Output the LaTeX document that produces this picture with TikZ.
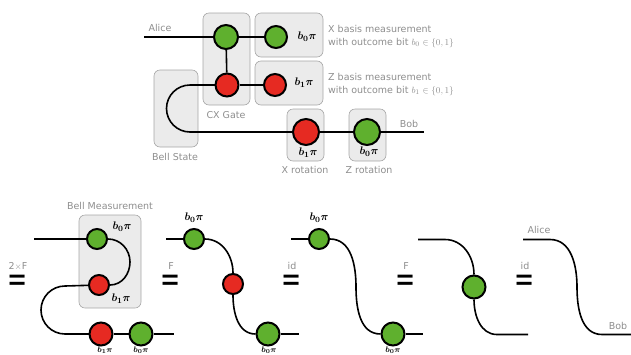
\documentclass[tikz,border=0pt]{standalone}
\usepackage{amsmath}
\usepackage{amssymb}
\usepackage{xcolor}
\usepackage{fontspec}
\setmainfont{DejaVu Sans}
\definecolor{zxgreen}{HTML}{5FB02E}
\definecolor{zxred}{HTML}{E62A22}
\definecolor{zxtext}{HTML}{8E8E8E}
\tikzset{
    wire/.style={line width=1.6pt},
    gbox/.style={draw=black!35,fill=black!8,rounded corners=6pt,line width=.6pt},
    greenA/.style={circle,draw=black,fill=zxgreen,line width=2pt,inner sep=0pt,minimum size=#1},
    redA/.style={circle,draw=black,fill=zxred,line width=2pt,inner sep=0pt,minimum size=#1},
    graytext/.style={text=zxtext,font=\fontsize{9.5}{10}\selectfont,inner sep=0pt},
    phase/.style={text=black,font=\fontsize{11}{11}\selectfont\boldmath,inner sep=0pt},
    phaselow/.style={text=black,font=\fontsize{8.5}{8.5}\selectfont\boldmath,inner sep=0pt},
    eqsign/.style={inner sep=0pt,font=\fontsize{24}{24}\selectfont},
}
\newcommand{\tallequal}{\scalebox{1}[1.5]{=}}
\begin{document}
\begin{tikzpicture}[x=1pt,y=-1pt]
    \useasboundingbox (0,0) rectangle (631,354);

    \node[gbox,minimum width=47pt,minimum height=92pt] (cxbox) at (226.5,59) {};
    \node[gbox,minimum width=68pt,minimum height=44pt] (xbox) at (289,35) {};
    \node[gbox,minimum width=68pt,minimum height=44pt] (zbox) at (289,83) {};
    \node[gbox,minimum width=44pt,minimum height=77pt] (bellbox) at (176,108.5) {};
    \node[gbox,minimum width=37pt,minimum height=52pt] (xrotbox) at (305.5,135) {};
    \node[gbox,minimum width=37pt,minimum height=52pt] (zrotbox) at (367.5,135) {};

    \coordinate (alicein) at (144,37);
    \coordinate (bobout) at (424,132);
    \coordinate (bellup) at (190,85);
    \coordinate (belldown) at (190,132);
    \node[greenA=24pt] (cxgreen) at (226,37) {};
    \node[redA=23pt] (cxred) at (227,85) {};
    \node[greenA=22pt] (xmeas) at (276,37) {};
    \node[redA=22pt] (zmeas) at (275,85) {};
    \node[redA=26pt] (xrot) at (306,132) {};
    \node[greenA=26pt] (zrot) at (367,132) {};
    \draw[wire] (alicein) -- (cxgreen);
    \draw[wire] (cxgreen) -- (xmeas);
    \draw[wire] (cxgreen) -- (cxred);
    \draw[wire] (cxred) -- (zmeas);
    \draw[wire] (cxred) -- (bellup);
    \draw[wire] (bellup) arc[start angle=90,end angle=270,radius=23.5pt];
    \draw[wire] (belldown) -- (xrot);
    \draw[wire] (xrot) -- (zrot);
    \draw[wire] (zrot) -- (bobout);

    \node[graytext] (alicetop) at (160,28) {Alice};
    \node[graytext] (bobtop) at (409,124) {Bob};
    \node[graytext] (cxlabel) at (226,115) {CX Gate};
    \node[graytext] (belllabel) at (175,157) {Bell State};
    \node[graytext] (xrotlabel) at (305,170) {X rotation};
    \node[graytext] (zrotlabel) at (369,170) {Z rotation};
    \node[graytext,anchor=west] (xtextA) at (328,29) {X basis measurement};
    \node[graytext,anchor=west] (xtextB) at (328,43) {with outcome bit $b_0\in\{0,1\}$};
    \node[graytext,anchor=west] (ztextA) at (328,77) {Z basis measurement};
    \node[graytext,anchor=west] (ztextB) at (328,91) {with outcome bit $b_1\in\{0,1\}$};
    \node[phase] (xphase) at (307,37) {$b_0\pi$};
    \node[phase] (zphase) at (304,83) {$b_1\pi$};
    \node[phase] (xrotphase) at (308,153) {$b_1\pi$};
    \node[phase] (zrotphase) at (369,152) {$b_0\pi$};


    \node[gbox,minimum width=62pt,minimum height=93pt] (measbox) at (110,261.5) {};
    \node[graytext] (measlabel) at (110,206) {Bell Measurement};
    \coordinate (oneA) at (34,239);
    \coordinate (oneB) at (65,286);
    \coordinate (oneC) at (65,334);
    \coordinate (oneD) at (174,334);
    \coordinate (oneM) at (130,262);
    \node[greenA=20pt] (oneg) at (97,239) {};
    \node[redA=20pt] (oner) at (99,285) {};
    \node[redA=23pt] (onex) at (101,334) {};
    \node[greenA=23pt] (onez) at (141,334) {};
    \draw[wire] (oneA) -- (oneg);
    \draw[wire] (oneg) to[out=0,in=90] (oneM) to[out=-90,in=0] (oner);
    \draw[wire] (oner) -- (oneB);
    \draw[wire] (oneB) arc[start angle=90,end angle=270,radius=24pt];
    \draw[wire] (oneC) -- (onex);
    \draw[wire] (onex) -- (onez);
    \draw[wire] (onez) -- (oneD);
    \node[phase] (onegp) at (122,227) {$b_0\pi$};
    \node[phase] (onerp) at (121,299) {$b_1\pi$};
    \node[phaselow] (onexp) at (105,350) {$b_1\pi$};
    \node[phaselow] (onezp) at (141,350) {$b_0\pi$};

    \coordinate (twoA) at (166,239);
    \coordinate (twoB) at (299,334);
    \node[greenA=20pt] (twog) at (194,239) {};
    \node[redA=20pt] (twor) at (233,284) {};
    \node[greenA=23pt] (twoz) at (268,334) {};
    \draw[wire] (twoA) -- (twog);
    \draw[wire] (twog) to[out=0,in=90] (twor);
    \draw[wire] (twor) to[out=-90,in=180] (twoz);
    \draw[wire] (twoz) -- (twoB);
    \node[phase] (twogp) at (194,218) {$b_0\pi$};
    \node[phaselow] (twozp) at (269,350) {$b_0\pi$};

    \coordinate (threeA) at (291,239);
    \coordinate (threeB) at (423,334);
    \coordinate (threeM) at (356,287);
    \node[greenA=20pt] (threeg) at (319,239) {};
    \node[greenA=23pt] (threez) at (393,334) {};
    \draw[wire] (threeA) -- (threeg);
    \draw[wire] (threeg) to[out=0,in=90] (threeM) to[out=-90,in=180] (threez);
    \draw[wire] (threez) -- (threeB);
    \node[phase] (threegp) at (319,218) {$b_0\pi$};
    \node[phaselow] (threezp) at (393,350) {$b_0\pi$};

    \coordinate (fourA) at (418,239.5);
    \coordinate (fourB) at (528,334.5);
    \coordinate (fourC) at (445,239.5);
    \coordinate (fourD) at (497,334.5);
    \node[greenA=23pt] (fourg) at (474,287) {};
    \draw[wire] (fourA) -- (fourC) to[out=0,in=90] (fourg);
    \draw[wire] (fourg) to[out=-90,in=180] (fourD) -- (fourB);

    \coordinate (fiveA) at (523,239.5);
    \coordinate (fiveB) at (631,334.5);
    \coordinate (fiveC) at (550,239.5);
    \coordinate (fiveM) at (577,287);
    \coordinate (fiveD) at (602,334.5);
    \draw[wire] (fiveA) -- (fiveC) to[out=0,in=90] (fiveM) to[out=-90,in=180] (fiveD) -- (fiveB);
    \node[graytext] (aliceend) at (539,230) {Alice};
    \node[graytext] (bobend) at (618,326) {Bob};

    \node[eqsign] (eqone) at (18,283) {\tallequal};
    \node[eqsign] (eqtwo) at (171,283) {\tallequal};
    \node[eqsign] (eqthree) at (292,283) {\tallequal};
    \node[eqsign] (eqfour) at (406,283) {\tallequal};
    \node[eqsign] (eqfive) at (525,283) {\tallequal};
    \node[graytext] (eqonel) at (18,266) {2$\times$F};
    \node[graytext] (eqtwol) at (171,266) {F};
    \node[graytext] (eqthreel) at (292,266) {id};
    \node[graytext] (eqfourl) at (406,266) {F};
    \node[graytext] (eqfivel) at (525,266) {id};
\end{tikzpicture}
\end{document}
